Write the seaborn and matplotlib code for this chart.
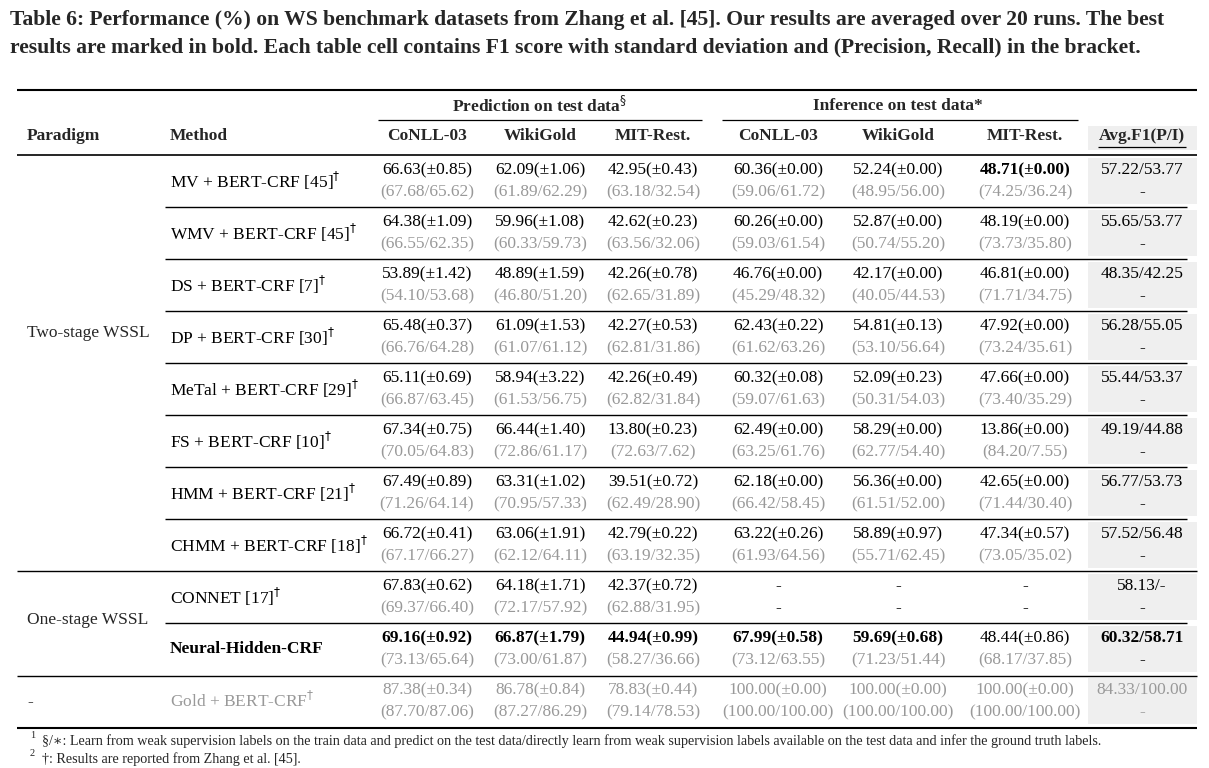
import matplotlib
matplotlib.use("Agg")
import matplotlib.pyplot as plt
import seaborn as sns

sns.set_theme(style="white")
plt.rcParams['font.family'] = ['Liberation Serif', 'DejaVu Serif']

columns = ["CoNLL-03", "WikiGold", "MIT-Rest.", "CoNLL-03", "WikiGold", "MIT-Rest."]
methods = ["MV + BERT-CRF [45]$^{\\dagger}$", "WMV + BERT-CRF [45]$^{\\dagger}$", "DS + BERT-CRF [7]$^{\\dagger}$",
           "DP + BERT-CRF [30]$^{\\dagger}$", "MeTal + BERT-CRF [29]$^{\\dagger}$", "FS + BERT-CRF [10]$^{\\dagger}$",
           "HMM + BERT-CRF [21]$^{\\dagger}$", "CHMM + BERT-CRF [18]$^{\\dagger}$", "CONNET [17]$^{\\dagger}$",
           "Neural-Hidden-CRF", "Gold + BERT-CRF$^{\\dagger}$"]
f1 = [
 ["66.63(±0.85)","62.09(±1.06)","42.95(±0.43)","60.36(±0.00)","52.24(±0.00)","48.71(±0.00)"],
 ["64.38(±1.09)","59.96(±1.08)","42.62(±0.23)","60.26(±0.00)","52.87(±0.00)","48.19(±0.00)"],
 ["53.89(±1.42)","48.89(±1.59)","42.26(±0.78)","46.76(±0.00)","42.17(±0.00)","46.81(±0.00)"],
 ["65.48(±0.37)","61.09(±1.53)","42.27(±0.53)","62.43(±0.22)","54.81(±0.13)","47.92(±0.00)"],
 ["65.11(±0.69)","58.94(±3.22)","42.26(±0.49)","60.32(±0.08)","52.09(±0.23)","47.66(±0.00)"],
 ["67.34(±0.75)","66.44(±1.40)","13.80(±0.23)","62.49(±0.00)","58.29(±0.00)","13.86(±0.00)"],
 ["67.49(±0.89)","63.31(±1.02)","39.51(±0.72)","62.18(±0.00)","56.36(±0.00)","42.65(±0.00)"],
 ["66.72(±0.41)","63.06(±1.91)","42.79(±0.22)","63.22(±0.26)","58.89(±0.97)","47.34(±0.57)"],
 ["67.83(±0.62)","64.18(±1.71)","42.37(±0.72)","-","-","-"],
 ["69.16(±0.92)","66.87(±1.79)","44.94(±0.99)","67.99(±0.58)","59.69(±0.68)","48.44(±0.86)"],
 ["87.38(±0.34)","86.78(±0.84)","78.83(±0.44)","100.00(±0.00)","100.00(±0.00)","100.00(±0.00)"],
]
pr = [
 ["(67.68/65.62)","(61.89/62.29)","(63.18/32.54)","(59.06/61.72)","(48.95/56.00)","(74.25/36.24)"],
 ["(66.55/62.35)","(60.33/59.73)","(63.56/32.06)","(59.03/61.54)","(50.74/55.20)","(73.73/35.80)"],
 ["(54.10/53.68)","(46.80/51.20)","(62.65/31.89)","(45.29/48.32)","(40.05/44.53)","(71.71/34.75)"],
 ["(66.76/64.28)","(61.07/61.12)","(62.81/31.86)","(61.62/63.26)","(53.10/56.64)","(73.24/35.61)"],
 ["(66.87/63.45)","(61.53/56.75)","(62.82/31.84)","(59.07/61.63)","(50.31/54.03)","(73.40/35.29)"],
 ["(70.05/64.83)","(72.86/61.17)","(72.63/7.62)","(63.25/61.76)","(62.77/54.40)","(84.20/7.55)"],
 ["(71.26/64.14)","(70.95/57.33)","(62.49/28.90)","(66.42/58.45)","(61.51/52.00)","(71.44/30.40)"],
 ["(67.17/66.27)","(62.12/64.11)","(63.19/32.35)","(61.93/64.56)","(55.71/62.45)","(73.05/35.02)"],
 ["(69.37/66.40)","(72.17/57.92)","(62.88/31.95)","-","-","-"],
 ["(73.13/65.64)","(73.00/61.87)","(58.27/36.66)","(73.12/63.55)","(71.23/51.44)","(68.17/37.85)"],
 ["(87.70/87.06)","(87.27/86.29)","(79.14/78.53)","(100.00/100.00)","(100.00/100.00)","(100.00/100.00)"],
]
avg = ["57.22/53.77","55.65/53.77","48.35/42.25","56.28/55.05","55.44/53.37","49.19/44.88",
       "56.77/53.73","57.52/56.48","58.13/-","60.32/58.71","84.33/100.00"]
bold_cells = {(0,5),(9,0),(9,1),(9,2),(9,3),(9,4)}

fig = plt.figure(figsize=(12.09, 7.68), dpi=100)
ax = fig.add_axes([0, 0, 1, 1])
ax.set_xlim(0, 1209); ax.set_ylim(768, 0); ax.axis('off')

ax.text(10, 20, "Table 6: Performance (%) on WS benchmark datasets from Zhang et al. [45]. Our results are averaged over 20 runs. The best",
        fontsize=15.6, fontweight='bold', va='center')
ax.text(10, 47, "results are marked in bold. Each table cell contains F1 score with standard deviation and (Precision, Recall) in the bracket.",
        fontsize=15.6, fontweight='bold', va='center')

fs = 12.5
gray = '#999999'
def hline(y, x0, x1, lw):
    ax.plot([x0, x1], [y, y], color='black', lw=lw, solid_capstyle='butt')

hline(90, 17, 1197, 1.5)
ax.text(540, 106, "Prediction on test data$^{\\S}$", fontsize=fs, fontweight='bold', ha='center', va='center')
ax.text(898, 106, "Inference on test data*", fontsize=fs, fontweight='bold', ha='center', va='center')
hline(120, 378, 702, 0.9); hline(120, 722, 1078, 0.9)
colx = [427, 540, 653, 778, 898, 1025]
avgx = 1142
ax.text(27, 136, "Paradigm", fontsize=fs, fontweight='bold', va='center')
ax.text(170, 136, "Method", fontsize=fs, fontweight='bold', va='center')
for x, c in zip(colx, columns):
    ax.text(x, 136, c, fontsize=fs, fontweight='bold', ha='center', va='center')
ax.add_patch(plt.Rectangle((1088, 126), 109, 24, color='#efefef', lw=0))
ax.text(avgx, 136, "Avg.F1(P/I)", fontsize=fs, fontweight='bold', ha='center', va='center')
hline(147, 1098, 1186, 0.9)
hline(155, 17, 1197, 1.2)

for i in range(len(methods)):
    y1 = 170 + 52 * i
    y2 = y1 + 22
    gold = i == 10
    ax.add_patch(plt.Rectangle((1088, y1 - 12), 109, 46, color='#efefef', lw=0))
    mb = 'bold' if i == 9 else 'normal'
    ax.text(170, y1 + 11, methods[i], fontsize=fs, fontweight=mb, va='center',
            color=gray if gold else 'black')
    for j, x in enumerate(colx):
        w = 'bold' if (i, j) in bold_cells else 'normal'
        ax.text(x, y1, f1[i][j], fontsize=fs, fontweight=w, ha='center', va='center',
                color=gray if gold else 'black')
        ax.text(x, y2, pr[i][j], fontsize=fs, ha='center', va='center',
                color=gray if pr[i][j] != '-' else 'black')
    ax.text(avgx, y1, avg[i], fontsize=fs, fontweight='bold' if i == 9 else 'normal',
            ha='center', va='center', color=gray if gold else 'black')
    ax.text(avgx, y2, "-", fontsize=fs, ha='center', va='center', color=gray if gold else 'black')
    if i in (0, 1, 2, 3, 4, 5, 6, 8):
        hline(y1 + 37, 165, 1187, 1.0)

hline(571, 17, 1197, 1.0)
hline(676, 17, 1197, 1.0)
hline(728, 17, 1197, 1.5)
ax.text(27, 333, "Two-stage WSSL", fontsize=fs, va='center')
ax.text(27, 620, "One-stage WSSL", fontsize=fs, va='center')
ax.text(27, 702, "-", fontsize=fs, va='center')

ax.text(30, 736, "1", fontsize=7.5, va='center')
ax.text(42, 741, "§/∗: Learn from weak supervision labels on the train data and predict on the test data/directly learn from weak supervision labels available on the test data and infer the ground truth labels.",
        fontsize=10.2, va='center')
ax.text(30, 754, "2", fontsize=7.5, va='center')
ax.text(42, 759, "†: Results are reported from Zhang et al. [45].", fontsize=10.2, va='center')

fig.savefig("out.png", dpi=100)
